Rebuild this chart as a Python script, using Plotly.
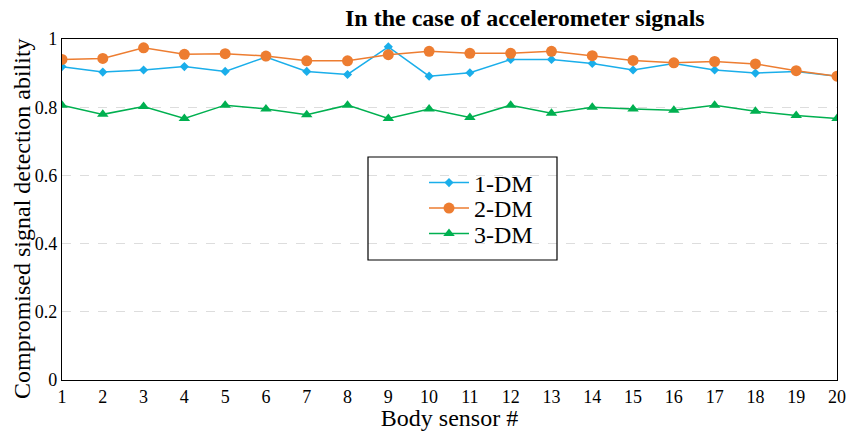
import plotly.graph_objects as go

sensors = list(range(1, 21))
dm1 = [0.919, 0.903, 0.909, 0.919, 0.905, 0.947, 0.905, 0.896, 0.977, 0.891,
       0.901, 0.940, 0.940, 0.928, 0.909, 0.928, 0.909, 0.900, 0.905, 0.891]
dm2 = [0.940, 0.943, 0.974, 0.955, 0.957, 0.950, 0.936, 0.936, 0.954, 0.964,
       0.958, 0.958, 0.964, 0.951, 0.937, 0.930, 0.934, 0.927, 0.907, 0.891]
dm3 = [0.806, 0.779, 0.802, 0.767, 0.806, 0.795, 0.778, 0.806, 0.767, 0.795,
       0.770, 0.806, 0.782, 0.800, 0.795, 0.791, 0.806, 0.788, 0.776, 0.767]
y_ticks = [0, 0.2, 0.4, 0.6, 0.8, 1]
y_ticklabels = ["0", "0.2", "0.4", "0.6", "0.8", "1"]

font = "Liberation Serif, Times New Roman, serif"
L, R, T, B = 62, 837, 39, 380
PW, PH = R - L, B - T


def px(x):
    return (x - L) / PW


def py(y):
    return (B - y) / PH


fig = go.Figure()
fig.add_trace(go.Scatter(x=sensors, y=dm1, name="1-DM", mode="lines+markers",
                         line=dict(color="#1AAEEA", width=1.5),
                         marker=dict(symbol="diamond", size=7, color="#1AAEEA"),
                         legend="legend"))
fig.add_trace(go.Scatter(x=sensors, y=dm2, name="2-DM", mode="lines+markers",
                         line=dict(color="#ED7D31", width=1.5),
                         marker=dict(symbol="circle", size=11, color="#ED7D31"),
                         legend="legend2"))
fig.add_trace(go.Scatter(x=sensors, y=dm3, name="3-DM", mode="lines+markers",
                         line=dict(color="#00B050", width=1.5),
                         marker=dict(symbol="triangle-up", size=10, color="#00B050"),
                         legend="legend3"))

leg_common = dict(xanchor="left", yanchor="middle", bgcolor="rgba(0,0,0,0)",
                  borderwidth=0, font=dict(family=font, size=24), itemwidth=40)

fig.update_layout(
    width=848, height=431,
    margin=dict(l=L, r=848 - R, t=T, b=431 - B, autoexpand=False),
    paper_bgcolor="white", plot_bgcolor="white",
    font=dict(family=font, size=18, color="black"),
    showlegend=True,
    legend=dict(x=px(424), y=py(183), **leg_common),
    legend2=dict(x=px(424), y=py(208.5), **leg_common),
    legend3=dict(x=px(424), y=py(234), **leg_common),
    annotations=[
        dict(text="<b>In the case of accelerometer signals</b>",
             x=px(525), xref="paper", y=py(18), yref="paper",
             xanchor="center", yanchor="middle",
             showarrow=False, font=dict(family=font, size=24)),
        dict(text="Compromised signal detection ability", textangle=-90,
             x=px(22), xref="paper", y=py(219), yref="paper",
             xanchor="center", yanchor="middle",
             showarrow=False, font=dict(family=font, size=24)),
    ],
    shapes=[dict(type="rect", xref="paper", yref="paper",
                 x0=px(368), x1=px(557), y0=py(260), y1=py(157),
                 line=dict(color="black", width=1.2), fillcolor="rgba(0,0,0,0)")],
)

fig.update_xaxes(range=[1, 20], tickmode="array", tickvals=sensors,
                 ticks="", showgrid=False, zeroline=False, ticklabeloverflow="allow",
                 automargin=False,
                 showline=True, linecolor="black", linewidth=1.2, mirror=True,
                 title=dict(text="Body sensor #", font=dict(family=font, size=24), standoff=0),
                 tickfont=dict(family=font, size=18))
fig.update_yaxes(range=[0, 1], tickmode="array", tickvals=y_ticks, ticktext=y_ticklabels,
                 ticks="", showgrid=True, gridcolor="#DDDDDD", griddash="dash", gridwidth=1,
                 zeroline=False, automargin=False,
                 showline=True, linecolor="black", linewidth=1.2, mirror=True,
                 tickfont=dict(family=font, size=18))

fig.write_html("out.html")
